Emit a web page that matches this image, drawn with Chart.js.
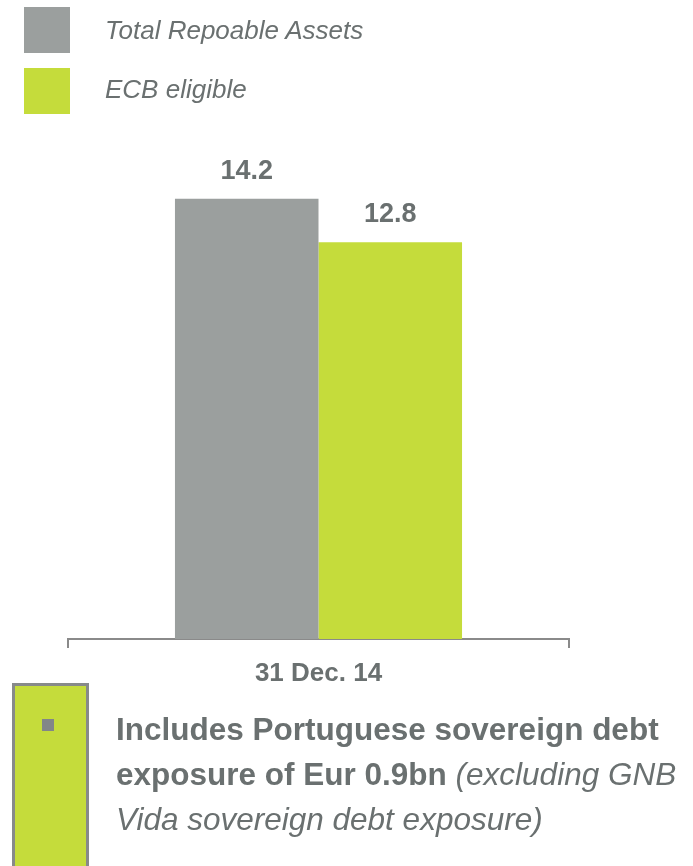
<!DOCTYPE html>
<html>
<head>
<meta charset="utf-8">
<script src="https://cdn.jsdelivr.net/npm/chart.js@4/dist/chart.umd.min.js"></script>
<style>
  html, body { margin: 0; padding: 0; background: #ffffff; }
  body { width: 693px; height: 866px; position: relative; overflow: hidden;
         font-family: "Liberation Sans", Arial, sans-serif; color: #6a7070; }
  #chart { position: absolute; left: 0; top: 0; }
  .swatch { position: absolute; left: 24px; width: 46px; height: 46px; }
  .legend-text { position: absolute; left: 105px; font-size: 26px; font-style: italic;
                 line-height: 30px; white-space: nowrap; }
  .note-box { position: absolute; left: 12px; top: 683px; width: 71px; height: 200px;
              background: #c5dc3b; border: 3px solid #878a8a; }
  .bullet { position: absolute; left: 42px; top: 719px; width: 12px; height: 12px; background: #828688; }
  .note { position: absolute; left: 116px; top: 707px; font-size: 31.5px; line-height: 45px;
          white-space: nowrap; }
  .note b { font-weight: bold; }
  .note i { font-style: italic; font-weight: normal; }
</style>
</head>
<body>
<canvas id="chart" width="693" height="866"></canvas>

<div class="swatch" id="sw0" style="top:7px;"></div>
<div class="legend-text" id="lg0" style="top:15px;"></div>
<div class="swatch" id="sw1" style="top:68px;"></div>
<div class="legend-text" id="lg1" style="top:74px;"></div>

<div class="note-box"></div>
<div class="bullet"></div>
<div class="note">
  <b>Includes Portuguese sovereign debt</b><br>
  <b>exposure of Eur 0.9bn</b> <i>(excluding GNB</i><br>
  <i>Vida sovereign debt exposure)</i>
</div>

<script>
// Chart data
const categories = ['31 Dec. 14'];
const seriesNames = ['Total Repoable Assets', 'ECB eligible'];
const totalRepoable = [14.2];
const ecbEligible = [12.8];

const COLORS = ['#9b9f9e', '#c5dc3b'];
const TEXT = '#6a7070';
const AXIS = '#8a8a8a';

// HTML legend
seriesNames.forEach((name, i) => {
  document.getElementById('sw' + i).style.background = COLORS[i];
  document.getElementById('lg' + i).textContent = name;
});

// Value labels above each bar
const valueLabels = {
  id: 'valueLabels',
  afterDatasetsDraw(chart) {
    const ctx = chart.ctx;
    ctx.save();
    ctx.font = 'bold 27px "Liberation Sans", Arial, sans-serif';
    ctx.fillStyle = TEXT;
    ctx.textAlign = 'center';
    ctx.textBaseline = 'alphabetic';
    chart.data.datasets.forEach((ds, di) => {
      const meta = chart.getDatasetMeta(di);
      meta.data.forEach((bar, i) => {
        ctx.fillText(ds.data[i].toFixed(1), bar.x, bar.y - 20);
      });
    });
    ctx.restore();
  }
};

new Chart(document.getElementById('chart'), {
  type: 'bar',
  data: {
    labels: categories,
    datasets: [
      { label: seriesNames[0], data: totalRepoable, backgroundColor: COLORS[0] },
      { label: seriesNames[1], data: ecbEligible, backgroundColor: COLORS[1] }
    ]
  },
  options: {
    responsive: false,
    devicePixelRatio: 1,
    animation: false,
    layout: { padding: { left: 68, right: 124, top: 143, bottom: 0 } },
    datasets: { bar: { barPercentage: 1, categoryPercentage: 0.573 } },
    plugins: { legend: { display: false }, tooltip: { enabled: false } },
    scales: {
      y: { display: false, min: 0, max: 16 },
      x: {
        offset: true,
        grid: { display: true, offset: true, drawOnChartArea: false, drawTicks: true,
                tickLength: 9, color: AXIS, lineWidth: 2 },
        border: { display: true, color: AXIS, width: 2 },
        ticks: { color: TEXT, padding: 10, font: { family: '"Liberation Sans", Arial, sans-serif', size: 26, weight: 'bold' } },
        afterFit(scale) { scale.height = 866 - 639; }
      }
    }
  },
  plugins: [valueLabels]
});
</script>
</body>
</html>
